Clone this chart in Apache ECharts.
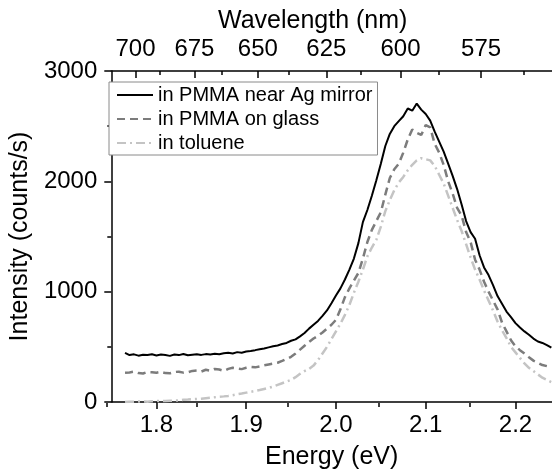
<!DOCTYPE html>
<html><head><meta charset="utf-8">
<script src="https://cdn.jsdelivr.net/npm/echarts@6/dist/echarts.min.js"></script>
<style>html,body{margin:0;padding:0;background:#fff}#c{width:552px;height:475px}</style>
</head><body><div id="c"></div>
<script>
// Energy grid (eV)
const energy = [
1.765,1.770,1.775,1.780,1.785,1.790,1.795,1.800,1.805,1.810,
1.815,1.820,1.825,1.830,1.835,1.840,1.845,1.850,1.855,1.860,
1.865,1.870,1.875,1.880,1.885,1.890,1.895,1.900,1.905,1.910,
1.915,1.920,1.925,1.930,1.935,1.940,1.945,1.950,1.955,1.960,
1.965,1.970,1.975,1.980,1.985,1.990,1.995,2.000,2.005,2.010,
2.015,2.020,2.025,2.030,2.035,2.040,2.045,2.050,2.055,2.060,
2.065,2.070,2.075,2.080,2.085,2.090,2.095,2.100,2.105,2.110,
2.115,2.120,2.125,2.130,2.135,2.140,2.145,2.150,2.155,2.160,
2.165,2.170,2.175,2.180,2.185,2.190,2.195,2.200,2.205,2.210,
2.215,2.220,2.225,2.230,2.235,2.240];
// in PMMA near Ag mirror
const agMirror = [
445,425,432,420,428,425,432,422,430,425,
418,430,425,435,424,428,432,427,434,430,
437,433,441,446,440,452,447,458,463,470,
478,485,495,505,512,525,535,555,568,595,
625,665,700,735,780,830,895,965,1030,1110,
1200,1300,1440,1630,1740,1870,2010,2160,2320,2430,
2500,2545,2590,2660,2640,2705,2650,2610,2550,2450,
2360,2270,2160,2050,1930,1790,1640,1540,1480,1330,
1220,1150,1060,960,890,820,770,715,675,640,
610,575,548,535,515,492];
// in PMMA on glass
const onGlass = [
265,268,275,262,258,272,270,266,274,262,
260,272,275,266,270,282,285,276,292,284,
300,294,282,300,310,304,298,310,318,314,
322,332,340,348,356,372,390,410,440,475,
510,545,575,600,630,665,700,745,840,950,
1030,1100,1170,1300,1450,1560,1640,1720,1880,2030,
2110,2160,2260,2380,2470,2440,2420,2510,2490,2340,
2260,2150,2000,1890,1760,1690,1540,1450,1290,1200,
1090,1000,920,840,720,640,560,505,470,440,
405,375,355,335,325,310];
// in toluene
const toluene = [
0,2,3,5,4,3,6,8,9,10,
11,12,15,20,22,25,27,30,34,38,
43,48,51,55,62,70,77,85,92,100,
108,118,128,140,155,170,185,200,225,255,
280,300,330,380,440,500,570,640,710,790,
880,990,1090,1200,1320,1400,1470,1590,1730,1830,
1920,1990,2040,2100,2150,2190,2210,2200,2190,2140,
2060,1980,1870,1760,1650,1550,1430,1310,1200,1110,
1010,920,830,730,650,580,500,450,400,350,
310,280,250,220,200,180];

const seriesNames = ['in PMMA near Ag mirror', 'in PMMA on glass', 'in toluene'];
const energyMajorTicks = [1.8, 1.9, 2.0, 2.1, 2.2];
const energyMinorTicks = [1.75, 1.85, 1.95, 2.05, 2.15];
const wavelengthMajorTicks = [700, 675, 650, 625, 600, 575];
const wavelengthMinorTicks = [687.5, 662.5, 637.5, 612.5, 587.5, 562.5];
const hc = 1239.84;
const topAxisShift = 0.0055;

const toE = w => hc / w + topAxisShift;
const toW = e => Math.round(hc / (e - topAxisShift));

const FONT = 'Liberation Sans, Arial, sans-serif';
const xMin = 1.7497, xMax = 2.2407;
const gridRect = {left: 106, right: 0, top: 71, bottom: 72};
const axisLine = {show: true, lineStyle: {color: '#000', width: 1.5}};

const chart = echarts.init(document.getElementById('c'));
chart.setOption({
  animation: false,
  backgroundColor: '#fff',
  title: {
    text: 'Wavelength (nm)', left: 213, top: 4,
    textStyle: {fontFamily: FONT, fontSize: 25, fontWeight: 'normal', color: '#000'}
  },
  grid: [Object.assign({}, gridRect), Object.assign({}, gridRect)],
  legend: {
    orient: 'vertical', left: 109, top: 82,
    padding: [3, 5, 2, 7],
    itemWidth: 36, itemHeight: 14, itemGap: 4,
    itemStyle: {opacity: 0},
    backgroundColor: '#fff', borderColor: '#8a8a8a', borderWidth: 1, borderRadius: 0,
    textStyle: {fontFamily: FONT, fontSize: 20, color: '#000', lineHeight: 20},
    data: seriesNames
  },
  xAxis: [
    {
      type: 'value', gridIndex: 0, position: 'bottom', min: xMin, max: xMax,
      name: 'Energy (eV)', nameLocation: 'middle', nameGap: 43,
      nameTextStyle: {fontFamily: FONT, fontSize: 25, color: '#000'},
      axisLine: axisLine, splitLine: {show: false},
      axisTick: {show: true, inside: false, length: 7, customValues: energyMajorTicks, lineStyle: {color: '#000', width: 1.5}},
      axisLabel: {customValues: energyMajorTicks, margin: 11, fontFamily: FONT, fontSize: 24, color: '#000',
        formatter: v => v.toFixed(1)}
    },
    {
      type: 'value', gridIndex: 0, position: 'top', min: xMin, max: xMax,
      axisLine: axisLine, splitLine: {show: false},
      axisTick: {show: true, inside: true, length: 7, customValues: wavelengthMajorTicks.map(toE), lineStyle: {color: '#000', width: 1.5}},
      axisLabel: {customValues: wavelengthMajorTicks.map(toE), margin: 10, fontFamily: FONT, fontSize: 24, color: '#000',
        formatter: v => String(toW(v))}
    },
    {
      type: 'value', gridIndex: 1, position: 'bottom', min: xMin, max: xMax,
      axisLine: {show: false}, splitLine: {show: false}, axisLabel: {show: false},
      axisTick: {show: true, inside: false, length: 4, customValues: energyMinorTicks, lineStyle: {color: '#000', width: 1.5}}
    },
    {
      type: 'value', gridIndex: 1, position: 'top', min: xMin, max: xMax,
      axisLine: {show: false}, splitLine: {show: false}, axisLabel: {show: false},
      axisTick: {show: true, inside: true, length: 4, customValues: wavelengthMinorTicks.map(toE), lineStyle: {color: '#000', width: 1.5}}
    }
  ],
  yAxis: [
    {
      type: 'value', gridIndex: 0, min: 0, max: 3000, interval: 1000,
      name: 'Intensity (counts/s)', nameLocation: 'middle', nameGap: 58,
      nameTextStyle: {fontFamily: FONT, fontSize: 25, color: '#000'},
      axisLine: axisLine, splitLine: {show: false},
      axisTick: {show: true, inside: false, length: 7, lineStyle: {color: '#000', width: 1.5}},
      minorTick: {show: true, splitNumber: 2, length: 4, lineStyle: {color: '#000', width: 1.5}},
      axisLabel: {margin: 14, fontFamily: FONT, fontSize: 24, color: '#000', formatter: v => String(v)}
    },
    {type: 'value', gridIndex: 1, min: 0, max: 3000, show: false}
  ],
  series: [
    {
      name: seriesNames[0], type: 'line', xAxisIndex: 0, yAxisIndex: 0, showSymbol: false, symbol: 'none',
      lineStyle: {color: '#000', width: 2}, itemStyle: {color: '#000'},
      data: energy.map((e, i) => [e, agMirror[i]]), z: 5
    },
    {
      name: seriesNames[1], type: 'line', xAxisIndex: 0, yAxisIndex: 0, showSymbol: false, symbol: 'none',
      lineStyle: {color: '#7c7c7c', width: 2.5, type: [8, 5]}, itemStyle: {color: '#7c7c7c'},
      data: energy.map((e, i) => [e, onGlass[i]]), z: 4
    },
    {
      name: seriesNames[2], type: 'line', xAxisIndex: 0, yAxisIndex: 0, showSymbol: false, symbol: 'none',
      lineStyle: {color: '#c4c4c4', width: 2.5, type: [9, 4, 2, 4]}, itemStyle: {color: '#c4c4c4'},
      data: energy.map((e, i) => [e, toluene[i]]), z: 3
    }
  ]
});
</script></body></html>
